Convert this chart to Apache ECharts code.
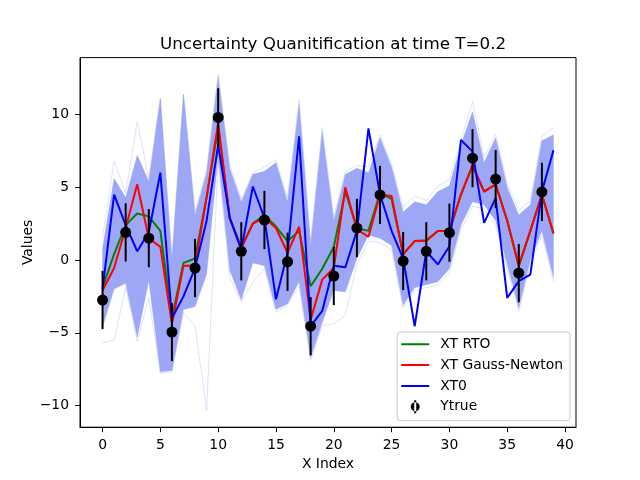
<!DOCTYPE html>
<html>
<head>
<meta charset="utf-8">
<script src="https://cdn.jsdelivr.net/npm/echarts@6/dist/echarts.min.js"></script>
<style>
  html, body { margin: 0; padding: 0; background: #fff; }
  #chart { width: 640px; height: 480px; }
</style>
</head>
<body>
<div id="chart"></div>
<script>
// x index 0..39
var xIdx = [0,1,2,3,4,5,6,7,8,9,10,11,12,13,14,15,16,17,18,19,
            20,21,22,23,24,25,26,27,28,29,30,31,32,33,34,35,36,37,38,39];

var xtRto = [-1.9,0.4,2.4,3.2,3.0,2.0,-4.0,-0.2,0.1,4.3,9.1,2.9,0.9,2.5,3.1,2.3,1.3,2.0,-1.8,-0.6,
             0.9,4.7,2.2,2.0,4.6,4.2,0.4,1.3,1.35,2.0,2.0,4.5,6.5,4.7,5.2,2.7,-0.4,2.0,4.5,1.8];

var xtGN = [-2.1,-0.55,2.2,5.2,1.5,0.9,-4.4,-0.4,-0.4,4.3,9.4,2.9,0.8,2.5,2.9,2.2,0.5,2.3,-4.1,-1.35,
            -0.55,5.0,2.1,1.6,4.5,4.4,0.4,1.3,1.3,2.0,2.0,4.5,6.5,4.7,5.2,2.7,-0.4,2.0,4.5,1.85];

var xt0 = [-2.0,4.5,2.4,0.6,1.9,6.0,-4.0,-2.5,-0.55,2.7,7.9,2.9,0.7,5.05,2.9,-2.7,0.5,8.5,-4.55,-3.5,
           -0.4,-0.5,2.0,9.05,4.5,2.0,0.1,-4.55,0.6,-0.3,0.95,8.25,7.45,2.55,4.25,-2.6,-1.45,-1.0,4.7,7.55];

// ensemble spread: dense band edges and the sparse outer members
var ensUpper = [0.8,5.6,4.3,7.2,5.4,11.1,0.0,11.4,3.1,6.0,12.6,6.3,4.0,5.9,6.1,6.7,4.0,10.7,1.0,8.8,
                2.7,5.9,6.3,6.0,8.4,6.4,3.3,4.0,3.8,4.7,5.1,7.9,10.2,6.7,8.4,5.0,3.1,3.8,8.2,8.6];
var ensLower = [-4.6,-2.0,-1.6,-5.3,-1.4,-7.7,-7.6,-3.4,-3.2,-1.0,7.2,-0.7,-2.75,-0.2,-0.4,-3.4,-3.0,-1.5,-6.7,-4.3,
                -2.1,-2.2,0.1,1.7,1.5,1.0,-3.1,-1.9,-1.7,-1.5,-0.6,2.4,4.0,3.8,2.7,-0.3,-3.3,0.0,2.0,-1.2];
var ensOuterHi = [1.5,6.8,4.6,9.5,5.6,11.1,0.2,11.4,3.3,6.2,12.76,6.5,4.2,6.0,6.4,6.9,4.3,11.0,1.3,9.1,
                  3.0,6.1,6.5,6.4,8.6,6.6,3.6,4.4,4.1,5.1,5.5,8.2,10.9,7.1,8.6,5.3,3.4,4.1,8.5,9.1];
var ensOuterLo = [-5.7,-5.5,-1.9,-5.6,-2.6,-7.8,-7.7,-3.6,-4.5,-10.34,6.8,-1.2,-2.9,-1.5,-0.6,-3.6,-3.1,-1.8,-6.9,-4.5,
                  -4.4,-3.8,-0.3,1.3,1.2,0.7,-3.3,-2.1,-1.9,-1.7,-0.9,2.1,3.7,3.5,2.4,-0.6,-3.5,-0.3,1.7,-1.5];

// observations
var xTrue = [0,2,4,6,8,10,12,14,16,18,20,22,24,26,28,30,32,34,36,38];
var yTrue = [-2.75,1.9,1.5,-4.95,-0.55,9.8,0.6,2.75,-0.12,-4.55,-1.1,2.2,4.47,-0.07,0.6,1.88,7.0,5.56,-0.9,4.68];
var yErr = 2;

var xTicks = [0,5,10,15,20,25,30,35,40];
var yTicks = [-10,-5,0,5,10];

function pairs(xs, ys) {
    var out = [];
    for (var i = 0; i < xs.length; i++) {
        out.push([xs[i], ys[i]]);
    }
    return out;
}

var font = 'DejaVu Sans';
var minusFmt = function (v) { return String(v).replace('-', '\u2212'); };
// legend icons, padded with tiny marks so they fill the 28x14 box without stretching
var lineIcon = 'path://M14,0L14.01,0L14.01,0.01Z M14,14L14.01,14L14.01,13.99Z M0,6L28,6L28,8L0,8Z';
var ytrueIcon = 'path://M0,7L0.01,7L0.01,7.01Z M28,7L27.99,7L27.99,7.01Z M13,0.5L15,0.5L15,13.5L13,13.5Z M9.5,7A4.5,4.5 0 1 0 18.5,7A4.5,4.5 0 1 0 9.5,7Z';

var chart = echarts.init(document.getElementById('chart'));
var option = {
    animation: false,
    backgroundColor: '#fff',
    title: {
        text: 'Uncertainty Quanitification at time T=0.2',
        left: 328,
        top: 31,
        textAlign: 'center',
        textStyle: { fontFamily: font, fontSize: 16.7, fontWeight: 'normal', color: '#000' }
    },
    grid: {
        left: 80, right: 64, top: 57.6, bottom: 52.8,
        show: true, borderColor: '#000', borderWidth: 1
    },
    legend: {
        data: [
            { name: 'XT RTO', icon: lineIcon },
            { name: 'XT Gauss-Newton', icon: lineIcon },
            { name: 'XT0', icon: lineIcon },
            { name: 'Ytrue', icon: ytrueIcon }
        ],
        orient: 'vertical',
        right: 70,
        bottom: 59.3,
        itemWidth: 28,
        itemHeight: 14,
        itemGap: 6.8,
        padding: [5.3, 7, 7, 4],
        backgroundColor: 'rgba(255,255,255,0.8)',
        borderColor: '#cccccc',
        borderWidth: 1,
        borderRadius: 3,
        textStyle: { fontFamily: font, fontSize: 13.9, color: '#000', padding: [0, 0, 0, 6] }
    },
    xAxis: {
        type: 'value',
        min: -1.95,
        max: 40.95,
        name: 'X Index',
        nameLocation: 'middle',
        nameGap: 30,
        nameMoveOverlap: false,
        nameTextStyle: { fontFamily: font, fontSize: 13.9, color: '#000' },
        axisLine: { show: true, onZero: false, lineStyle: { color: '#000', width: 1 } },
        axisTick: { show: true, length: 5, customValues: xTicks, lineStyle: { color: '#000' } },
        axisLabel: { customValues: xTicks, margin: 11, fontFamily: font, fontSize: 13.9, color: '#000' },
        splitLine: { show: false }
    },
    yAxis: {
        type: 'value',
        min: -11.49,
        max: 13.91,
        name: 'Values',
        nameLocation: 'middle',
        nameRotate: 90,
        nameGap: 45,
        nameMoveOverlap: false,
        nameTextStyle: { fontFamily: font, fontSize: 13.9, color: '#000' },
        axisLine: { show: true, onZero: false, lineStyle: { color: '#000', width: 1 } },
        axisTick: { show: true, length: 5, customValues: yTicks, lineStyle: { color: '#000' } },
        axisLabel: { customValues: yTicks, margin: 11, fontFamily: font, fontSize: 13.9, color: '#000', formatter: minusFmt },
        splitLine: { show: false }
    },
    series: [
        {
            // dense part of the ensemble as one filled polygon between lower and upper edges
            name: 'ens-band', type: 'custom', z: 1, silent: true,
            data: [[0, 0]],
            renderItem: function (params, api) {
                var pts = [];
                for (var i = 0; i < xIdx.length; i++) {
                    pts.push(api.coord([xIdx[i], ensUpper[i]]));
                }
                for (var j = xIdx.length - 1; j >= 0; j--) {
                    pts.push(api.coord([xIdx[j], ensLower[j]]));
                }
                return {
                    type: 'polygon',
                    shape: { points: pts },
                    style: { fill: 'rgb(157,167,246)', stroke: 'rgba(150,160,245,0.6)', lineWidth: 0.6 }
                };
            }
        },
        {
            name: 'ens-hi', type: 'line', data: pairs(xIdx, ensOuterHi), symbol: 'none', silent: true, z: 1,
            lineStyle: { width: 0.7, color: 'rgba(140,152,242,0.4)' }
        },
        {
            name: 'ens-lo', type: 'line', data: pairs(xIdx, ensOuterLo), symbol: 'none', silent: true, z: 1,
            lineStyle: { width: 0.7, color: 'rgba(140,152,242,0.4)' }
        },
        {
            name: 'XT RTO', type: 'line', data: pairs(xIdx, xtRto), symbol: 'none', z: 3,
            lineStyle: { width: 2, color: '#008000' }, itemStyle: { color: '#008000' }
        },
        {
            name: 'XT Gauss-Newton', type: 'line', data: pairs(xIdx, xtGN), symbol: 'none', z: 4,
            lineStyle: { width: 2, color: '#ff0000' }, itemStyle: { color: '#ff0000' }
        },
        {
            name: 'XT0', type: 'line', data: pairs(xIdx, xt0), symbol: 'none', z: 5,
            lineStyle: { width: 2, color: '#0000ff' }, itemStyle: { color: '#0000ff' }
        },
        {
            name: 'ytrue-err', type: 'custom', z: 6, silent: true,
            data: pairs(xTrue, yTrue),
            renderItem: function (params, api) {
                var x = api.value(0), y = api.value(1);
                var p1 = api.coord([x, y - yErr]);
                var p2 = api.coord([x, y + yErr]);
                return {
                    type: 'line',
                    shape: { x1: p1[0], y1: p1[1], x2: p2[0], y2: p2[1] },
                    style: { stroke: '#000', lineWidth: 2 }
                };
            }
        },
        {
            name: 'Ytrue', type: 'scatter', z: 7,
            data: pairs(xTrue, yTrue), symbol: 'circle', symbolSize: 11,
            itemStyle: { color: '#000', opacity: 1 }
        }
    ]
};
chart.setOption(option);
</script>
</body>
</html>
